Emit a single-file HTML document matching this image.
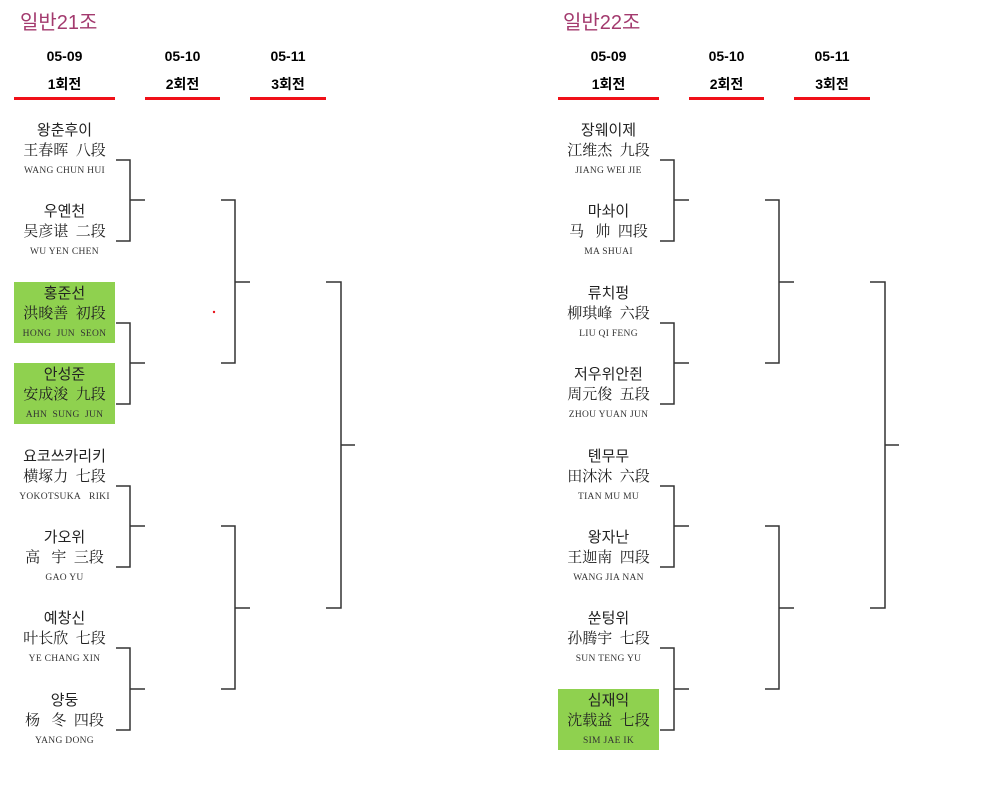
<!DOCTYPE html>
<html><head><meta charset="utf-8"><style>
body{margin:0;width:999px;height:795px;background:#fff;position:relative;overflow:hidden;font-family:"Liberation Sans","Noto Sans CJK KR",sans-serif;}
.t{position:absolute;font-size:20px;color:#a33a6e;font-family:"Liberation Sans","Noto Sans CJK KR",sans-serif;}
.h{position:absolute;text-align:center;font-weight:bold;font-size:14px;color:#000;}
.rl{position:absolute;height:3px;background:#f01018;}
.p{position:absolute;width:101px;height:61px;text-align:center;color:#222;}
.p.g{background:#8fd14f;}
.k{position:absolute;left:0;width:101px;top:1px;font-size:15px;line-height:22px;font-family:"Liberation Sans","Noto Sans CJK KR",sans-serif;}
.c{position:absolute;left:-5px;width:111px;top:21px;font-size:15px;line-height:22px;font-family:"Liberation Serif","Noto Serif CJK SC",serif;white-space:nowrap;}
.r{position:absolute;left:-5px;width:111px;top:46px;font-size:9.5px;line-height:12px;font-family:"Liberation Serif",serif;letter-spacing:0.3px;white-space:nowrap;color:#333;}
</style></head><body>
<div class="t" style="left:20px;top:6px">일반21조</div>
<div class="t" style="left:563px;top:6px">일반22조</div>

<div class="h" style="left:14px;width:101px;top:48px">05-09</div>
<div class="h" style="left:14px;width:101px;top:74px">1회전</div>
<div class="h" style="left:145px;width:75px;top:48px">05-10</div>
<div class="h" style="left:145px;width:75px;top:74px">2회전</div>
<div class="h" style="left:250px;width:76px;top:48px">05-11</div>
<div class="h" style="left:250px;width:76px;top:74px">3회전</div>
<div class="rl" style="left:14px;width:101px;top:97px"></div>
<div class="rl" style="left:145px;width:75px;top:97px"></div>
<div class="rl" style="left:250px;width:76px;top:97px"></div>

<div class="h" style="left:558px;width:101px;top:48px">05-09</div>
<div class="h" style="left:558px;width:101px;top:74px">1회전</div>
<div class="h" style="left:689px;width:75px;top:48px">05-10</div>
<div class="h" style="left:689px;width:75px;top:74px">2회전</div>
<div class="h" style="left:794px;width:76px;top:48px">05-11</div>
<div class="h" style="left:794px;width:76px;top:74px">3회전</div>
<div class="rl" style="left:558px;width:101px;top:97px"></div>
<div class="rl" style="left:689px;width:75px;top:97px"></div>
<div class="rl" style="left:794px;width:76px;top:97px"></div>

<div class="p" style="left:14px;top:119px"><div class="k">왕춘후이</div><div class="c">王春晖&nbsp; 八段</div><div class="r">WANG CHUN HUI</div></div>
<div class="p" style="left:14px;top:200px"><div class="k">우옌천</div><div class="c">吴彦谌&nbsp; 二段</div><div class="r">WU YEN CHEN</div></div>
<div class="p g" style="left:14px;top:282px"><div class="k">홍준선</div><div class="c">洪晙善&nbsp; 初段</div><div class="r">HONG&nbsp; JUN&nbsp; SEON</div></div>
<div class="p g" style="left:14px;top:363px"><div class="k">안성준</div><div class="c">安成浚&nbsp; 九段</div><div class="r">AHN&nbsp; SUNG&nbsp; JUN</div></div>
<div class="p" style="left:14px;top:445px"><div class="k">요코쓰카리키</div><div class="c">横塚力&nbsp; 七段</div><div class="r">YOKOTSUKA&nbsp;&nbsp; RIKI</div></div>
<div class="p" style="left:14px;top:526px"><div class="k">가오위</div><div class="c">高&nbsp;&nbsp; 宇&nbsp; 三段</div><div class="r">GAO YU</div></div>
<div class="p" style="left:14px;top:607px"><div class="k">예창신</div><div class="c">叶长欣&nbsp; 七段</div><div class="r">YE CHANG XIN</div></div>
<div class="p" style="left:14px;top:689px"><div class="k">양둥</div><div class="c">杨&nbsp;&nbsp; 冬&nbsp; 四段</div><div class="r">YANG DONG</div></div>

<div class="p" style="left:558px;top:119px"><div class="k">장웨이제</div><div class="c">江维杰&nbsp; 九段</div><div class="r">JIANG WEI JIE</div></div>
<div class="p" style="left:558px;top:200px"><div class="k">마솨이</div><div class="c">马&nbsp;&nbsp; 帅&nbsp; 四段</div><div class="r">MA SHUAI</div></div>
<div class="p" style="left:558px;top:282px"><div class="k">류치펑</div><div class="c">柳琪峰&nbsp; 六段</div><div class="r">LIU QI FENG</div></div>
<div class="p" style="left:558px;top:363px"><div class="k">저우위안쥔</div><div class="c">周元俊&nbsp; 五段</div><div class="r">ZHOU YUAN JUN</div></div>
<div class="p" style="left:558px;top:445px"><div class="k">톈무무</div><div class="c">田沐沐&nbsp; 六段</div><div class="r">TIAN MU MU</div></div>
<div class="p" style="left:558px;top:526px"><div class="k">왕자난</div><div class="c">王迦南&nbsp; 四段</div><div class="r">WANG JIA NAN</div></div>
<div class="p" style="left:558px;top:607px"><div class="k">쑨텅위</div><div class="c">孙腾宇&nbsp; 七段</div><div class="r">SUN TENG YU</div></div>
<div class="p g" style="left:558px;top:689px"><div class="k">심재익</div><div class="c">沈载益&nbsp; 七段</div><div class="r">SIM JAE IK</div></div>

<svg width="999" height="795" style="position:absolute;left:0;top:0" fill="none" stroke="#333" stroke-width="1.5">
<g id="L">
<path d="M116 160H130V241H116M130 200H145"/>
<path d="M116 323H130V404H116M130 363H145"/>
<path d="M116 486H130V567H116M130 526H145"/>
<path d="M116 648H130V730H116M130 689H145"/>
<path d="M221 200H235V363H221M235 282H250"/>
<path d="M221 526H235V689H221M235 608H250"/>
<path d="M326 282H341V608H326M341 445H355"/>
</g>
<use href="#L" x="544"/>
<circle cx="214" cy="312" r="1.2" fill="#e8141c" stroke="none"/>
</svg>
</body></html>
